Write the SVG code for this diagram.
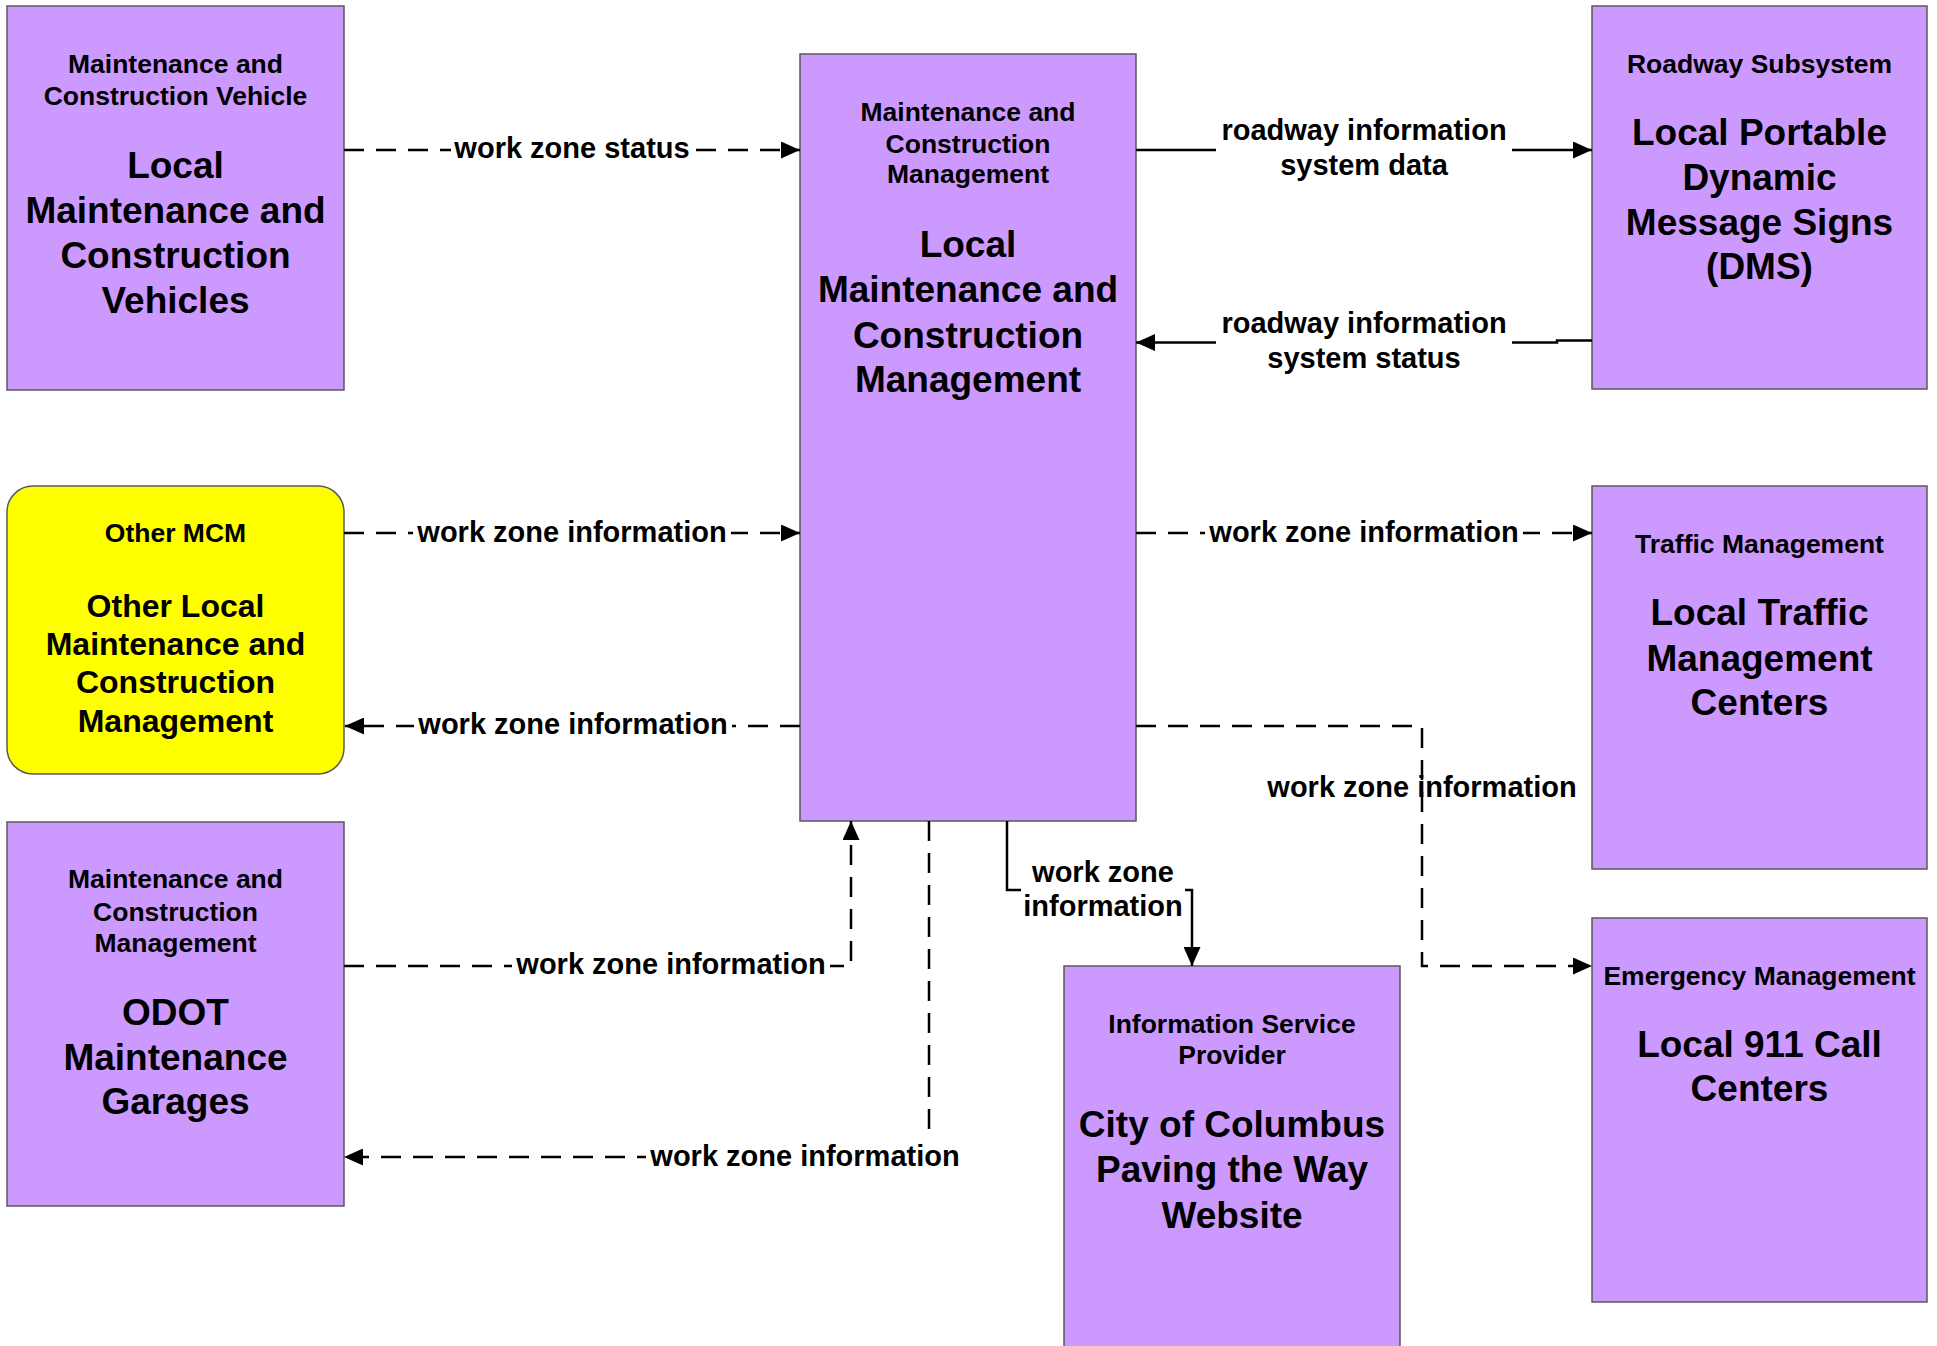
<svg xmlns="http://www.w3.org/2000/svg" width="1937" height="1346" viewBox="0 0 1937 1346">
<style>
  .node { fill: #CC99FF; stroke: #5a5a5a; stroke-width: 1.5; }
  .yel { fill: #FFFF00; stroke: #5a5a5a; stroke-width: 1.5; }
  text { font-family: "Liberation Sans", Arial, sans-serif; font-weight: bold; fill: #000; text-anchor: middle; }
  .sub { font-size: 26.5px; }
  .main { font-size: 37px; }
  .main32 { font-size: 32px; }
  .lbl { font-size: 29px; }
  .solid { fill: none; stroke: #000; stroke-width: 2.5; }
  .dash { fill: none; stroke: #000; stroke-width: 2.5; stroke-dasharray: 20 12; }
  .ko { fill: #fff; }
</style>
<defs>
  <marker id="ah" markerUnits="userSpaceOnUse" markerWidth="19" markerHeight="17" refX="19" refY="8.5" orient="auto">
    <path d="M0,0 L19,8.5 L0,17 z" fill="#000"/>
  </marker>
</defs>
<rect x="0" y="0" width="1937" height="1346" fill="#fff"/>

<g id="node-mcv">
  <rect class="node" x="7" y="6" width="337" height="384"/>
  <text class="sub" x="175.5" y="73">Maintenance and</text>
  <text class="sub" x="175.5" y="105">Construction Vehicle</text>
  <text class="main" x="175.5" y="178">Local</text>
  <text class="main" x="175.5" y="223">Maintenance and</text>
  <text class="main" x="175.5" y="268">Construction</text>
  <text class="main" x="175.5" y="313">Vehicles</text>
</g>

<g id="node-mcm">
  <rect class="node" x="800" y="54" width="336" height="767"/>
  <text class="sub" x="968" y="121">Maintenance and</text>
  <text class="sub" x="968" y="153">Construction</text>
  <text class="sub" x="968" y="183">Management</text>
  <text class="main" x="968" y="257">Local</text>
  <text class="main" x="968" y="302">Maintenance and</text>
  <text class="main" x="968" y="348">Construction</text>
  <text class="main" x="968" y="392">Management</text>
</g>

<g id="node-dms">
  <rect class="node" x="1592" y="6" width="335" height="383"/>
  <text class="sub" x="1759.5" y="73">Roadway Subsystem</text>
  <text class="main" x="1759.5" y="145">Local Portable</text>
  <text class="main" x="1759.5" y="190">Dynamic</text>
  <text class="main" x="1759.5" y="235">Message Signs</text>
  <text class="main" x="1759.5" y="279">(DMS)</text>
</g>

<g id="node-other">
  <rect class="yel" x="7" y="486" width="337" height="288" rx="26" ry="26"/>
  <text class="sub" x="175.5" y="542">Other MCM</text>
  <text class="main32" x="175.5" y="617">Other Local</text>
  <text class="main32" x="175.5" y="655">Maintenance and</text>
  <text class="main32" x="175.5" y="693">Construction</text>
  <text class="main32" x="175.5" y="732">Management</text>
</g>

<g id="node-tmc">
  <rect class="node" x="1592" y="486" width="335" height="383"/>
  <text class="sub" x="1759.5" y="553">Traffic Management</text>
  <text class="main" x="1759.5" y="625">Local Traffic</text>
  <text class="main" x="1759.5" y="671">Management</text>
  <text class="main" x="1759.5" y="715">Centers</text>
</g>

<g id="node-odot">
  <rect class="node" x="7" y="822" width="337" height="384"/>
  <text class="sub" x="175.5" y="888">Maintenance and</text>
  <text class="sub" x="175.5" y="921">Construction</text>
  <text class="sub" x="175.5" y="952">Management</text>
  <text class="main" x="175.5" y="1025">ODOT</text>
  <text class="main" x="175.5" y="1070">Maintenance</text>
  <text class="main" x="175.5" y="1114">Garages</text>
</g>

<g id="node-isp">
  <rect class="node" x="1064" y="966" width="336" height="390"/>
  <text class="sub" x="1232" y="1033">Information Service</text>
  <text class="sub" x="1232" y="1064">Provider</text>
  <text class="main" x="1232" y="1137">City of Columbus</text>
  <text class="main" x="1232" y="1182">Paving the Way</text>
  <text class="main" x="1232" y="1228">Website</text>
</g>

<g id="node-911">
  <rect class="node" x="1592" y="918" width="335" height="384"/>
  <text class="sub" x="1759.5" y="985">Emergency Management</text>
  <text class="main" x="1759.5" y="1057">Local 911 Call</text>
  <text class="main" x="1759.5" y="1101">Centers</text>
</g>

<g id="connectors">
  <path class="dash" d="M344,150 H800" marker-end="url(#ah)"/>
  <rect class="ko" x="451" y="136" width="242" height="28"/>
  <text class="lbl" x="572" y="158">work zone status</text>

  <path class="solid" d="M1136,150 H1592" marker-end="url(#ah)"/>
  <rect class="ko" x="1216" y="116" width="296" height="66"/>
  <text class="lbl" x="1364" y="140">roadway information</text>
  <text class="lbl" x="1364" y="175">system data</text>

  <path class="solid" d="M1592,340.5 H1557 V342.5 H1136" marker-end="url(#ah)"/>
  <rect class="ko" x="1216" y="309" width="296" height="66"/>
  <text class="lbl" x="1364" y="333">roadway information</text>
  <text class="lbl" x="1364" y="368">system status</text>

  <path class="dash" d="M344,533 H800" marker-end="url(#ah)"/>
  <rect class="ko" x="413" y="519" width="318" height="28"/>
  <text class="lbl" x="572" y="542">work zone information</text>

  <path class="dash" d="M800,726 H345" marker-end="url(#ah)"/>
  <rect class="ko" x="414" y="712" width="318" height="28"/>
  <text class="lbl" x="573" y="734">work zone information</text>

  <path class="dash" d="M1136,533 H1592" marker-end="url(#ah)"/>
  <rect class="ko" x="1205" y="519" width="318" height="28"/>
  <text class="lbl" x="1364" y="542">work zone information</text>

  <path class="dash" d="M1136,726 H1422 V966 H1592" marker-end="url(#ah)"/>
  <text class="lbl" x="1422" y="797">work zone information</text>

  <path class="solid" d="M1007,821 V890 H1192 V966" marker-end="url(#ah)"/>
  <rect class="ko" x="1021" y="859" width="164" height="64"/>
  <text class="lbl" x="1103" y="882">work zone</text>
  <text class="lbl" x="1103" y="916">information</text>

  <path class="dash" d="M344,966 H851 V821" marker-end="url(#ah)"/>
  <rect class="ko" x="512" y="950" width="318" height="30"/>
  <text class="lbl" x="671" y="974">work zone information</text>

  <path class="dash" d="M929,821 V1157 H344" marker-end="url(#ah)"/>
  <rect class="ko" x="646" y="1135" width="318" height="38"/>
  <text class="lbl" x="805" y="1166">work zone information</text>
</g>
</svg>
